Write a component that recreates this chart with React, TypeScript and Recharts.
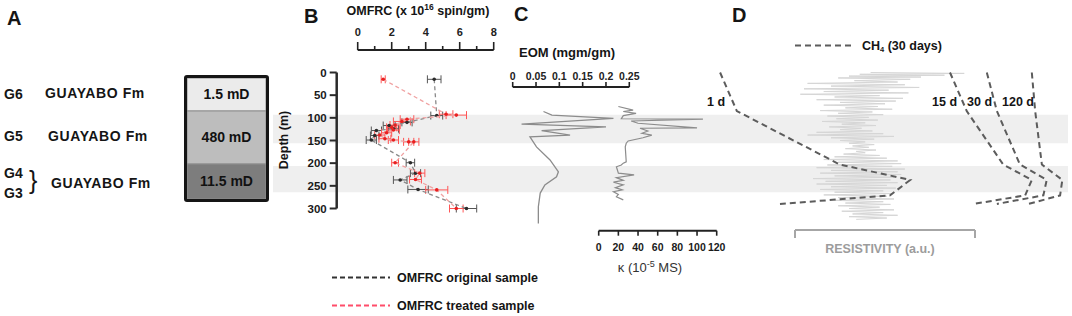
import React from "react";
import {
    ComposedChart,
    BarChart,
    Bar,
    LabelList,
    Scatter,
    XAxis,
    YAxis,
    ErrorBar,
    ReferenceArea,
} from "recharts";

const W = 1072;
const H = 316;
const FONT = '"Liberation Sans", Arial, Helvetica, sans-serif';

// depth scale shared by panels B-D: 0 m at y=72.5, 300 m at y=208.5
const DEPTH_TOP = 72.5;
const PX_PER_M = 136 / 300;
const depthAt = (y: number) => (y - DEPTH_TOP) / PX_PER_M;

/* ---------------- data ---------------- */

const DEPTH_TICKS = [0, 50, 100, 150, 200, 250, 300];
const SHADED_FROM = [93, 206];
const SHADED_TO = [156, 264];

// panel A: schematic core column
const LAYER_THICKNESS = [33, 53, 35];
const LAYER_PERMEABILITY = ["1.5 mD", "480 mD", "11.5 mD"];

// panel B: OMFRC (x 10^16 spin/gm)
const OMFRC_TICKS = [0, 1, 2, 3, 4, 5, 6, 7, 8];
const ORIG_DEPTH = [15, 95, 110, 117, 124, 128, 139, 149, 199, 222, 237, 258, 300];
const ORIG_VALUE = [4.5, 4.65, 2.9, 1.85, 2.1, 1.1, 1.0, 0.8, 3.1, 3.4, 2.5, 3.55, 6.4];
const ORIG_ERR = [0.4, 0.35, 0.3, 0.35, 0.3, 0.3, 0.25, 0.3, 0.25, 0.3, 0.4, 0.6, 0.6];
const TREAT_DEPTH = [15, 92, 94, 103, 108, 116, 121, 127, 133, 138, 146, 149, 153, 153, 199, 222, 236, 259, 300];
const TREAT_VALUE = [1.5, 5.2, 5.8, 2.9, 2.6, 2.2, 2.0, 2.1, 1.7, 1.3, 1.6, 2.1, 3.0, 3.3, 2.2, 3.65, 3.4, 4.65, 5.8];
const TREAT_ERR = [0.12, 0.4, 0.6, 0.4, 0.5, 0.3, 0.3, 0.35, 0.3, 0.3, 0.35, 0.3, 0.3, 0.3, 0.2, 0.3, 0.35, 0.65, 0.4];

// panel C: EOM (mgm/gm) and magnetic susceptibility
const EOM_TICKS = [0, 0.05, 0.1, 0.15, 0.2, 0.25];
const EOM_DEPTH = [86, 94, 101, 114, 120, 128, 138, 142, 164, 193, 219, 230, 248, 266, 296, 333];
const EOM_VALUE = [0.066, 0.084, 0.216, 0.019, 0.2, 0.062, 0.123, 0.037, 0.051, 0.08, 0.098, 0.094, 0.069, 0.059, 0.055, 0.055];
const KAPPA_TICKS = [0, 20, 40, 60, 80, 100, 120];
const KAPPA_DEPTH = [75, 83, 86, 90, 95, 102, 103, 107, 112, 122, 123, 129, 134, 138, 144, 151, 156, 164, 197, 200, 204, 208, 222, 226, 232, 238, 242, 248, 254, 259, 263, 269, 274, 281];
const KAPPA_VALUE = [20, 35, 25, 38, 25, 23, 106, 33, 40, 100, 42, 50, 44, 54, 45, 30, 28, 27, 28, 25, 23, 18, 20, 36, 18, 25, 15, 25, 17, 24, 15, 20, 18, 25];

// panel D: CH4 profiles (a.u.) and resistivity log (a.u.)
const CH4_DEPTH = [0, 85, 203, 237, 271, 290];
const CH4_1D = [5.4, 9.9, 37.6, 56.5, 51.1, 21.5];
const CH4_15D = [67.2, 71.7, 81.5, 89.2, 87.4, 73.5];
const CH4_30D = [77.1, 79.8, 86, 93.2, 92.3, 79.8];
const CH4_120D = [89.2, 90.1, 91.9, 97.4, 96.8, 88.3];
const RES_DEPTH = [
    0, 2, 4, 6, 8, 10, 12, 15, 18, 21, 24, 27, 30, 33, 36, 39, 42, 45, 48, 51, 54, 57, 60, 63, 66, 69,
    72, 75, 78, 81, 84, 87, 90, 93, 96, 99, 102, 105, 108, 111, 114, 117, 120, 123, 126, 129, 132, 135,
    138, 141, 144, 147, 150, 153, 156, 159, 162, 165, 168, 171, 174, 177, 180, 183, 186, 189, 192, 195,
    198, 201, 204, 207, 210, 213, 216, 219, 222, 225, 228, 231, 234, 237, 240, 243, 246, 249, 252, 255,
    258, 261, 264, 267, 270, 273, 276, 279, 282, 285, 288, 291, 294, 297, 300, 303, 306, 309, 312, 315,
    318, 321, 324,
];
const RES_VALUE = [
    0.42, 0.94, 0.36, 0.83, 0.3, 0.7, 0.24, 0.64, 0.33, 0.57, 0.07, 0.61, 0.2, 0.69, 0.05, 0.52, 0.16, 0.63,
    0.03, 0.47, 0.22, 0.6, 0.12, 0.56, 0.25, 0.5, 0.16, 0.46, 0.28, 0.54, 0.14, 0.43, 0.24, 0.49, 0.18, 0.41,
    0.23, 0.46, 0.15, 0.39, 0.26, 0.45, 0.19, 0.37, 0.25, 0.43, 0.12, 0.49, 0.07, 0.55, 0.2, 0.44, 0.25, 0.39,
    0.3, 0.44, 0.32, 0.41, 0.28, 0.45, 0.34, 0.39, 0.27, 0.47, 0.22, 0.51, 0.16, 0.57, 0.24, 0.59, 0.18, 0.54,
    0.12, 0.61, 0.2, 0.57, 0.14, 0.59, 0.22, 0.55, 0.1, 0.53, 0.17, 0.57, 0.12, 0.51, 0.2, 0.56, 0.14, 0.49,
    0.22, 0.54, 0.16, 0.51, 0.24, 0.55, 0.22, 0.49, 0.28, 0.53, 0.24, 0.47, 0.3, 0.55, 0.26, 0.49, 0.32, 0.57,
    0.3, 0.51, 0.34,
];

/* ---------------- helpers ---------------- */

const toRows = (depth: number[], value: number[], err?: number[]) =>
    depth.map((d, i) => ({ depth: d, value: value[i], err: err ? err[i] : 0 }));

const noShape = () => <g />;

const layer: React.CSSProperties = { position: "absolute", left: 0, top: 0 };

function OmfrcTick({ x, payload }: any) {
    const major = payload.value % 2 === 0;
    return (
        <g>
            <line x1={x} x2={x} y1={50} y2={major ? 42 : 46} stroke="#222" strokeWidth={1.6} />
            {major && (
                <text x={x} y={35.5} textAnchor="middle" fontSize={11} fontWeight={700} fill="#222" fontFamily={FONT}>
                    {payload.value}
                </text>
            )}
        </g>
    );
}

function EomTick({ x, payload }: any) {
    return (
        <g>
            <line x1={x} x2={x} y1={87} y2={82} stroke="#222" strokeWidth={1.6} />
            <text x={x} y={79.5} textAnchor="middle" fontSize={10.5} fontWeight={700} fill="#222" fontFamily={FONT}>
                {payload.value}
            </text>
        </g>
    );
}

function Txt({ x, y, size = 12.5, weight = 700, fill = "#151515", anchor = "start", spacing = 0, children }: any) {
    return (
        <text
            x={x}
            y={y}
            fontSize={size}
            fontWeight={weight}
            fill={fill}
            textAnchor={anchor}
            letterSpacing={spacing}
            fontFamily={FONT}
        >
            {children}
        </text>
    );
}

/* ---------------- app ---------------- */

export default function App() {
    const fullDepth: [number, number] = [depthAt(0), depthAt(H)];
    const layerRow: Record<string, any> = { name: "core" };
    LAYER_THICKNESS.forEach((t, i) => {
        layerRow[`t${i}`] = t;
        layerRow[`p${i}`] = LAYER_PERMEABILITY[i];
    });
    const layerTotal = LAYER_THICKNESS.reduce((a, b) => a + b, 0);
    const layerFills = ["#ebebeb", "#bdbdbd", "#7d7d7d"];

    const bAxisX = 336.7;
    const bZeroX = 357.7;
    const bPx = 17;
    const bRight = 500;

    const ch4Series = [CH4_1D, CH4_15D, CH4_30D, CH4_120D];
    const bandRows = SHADED_FROM.map((d, i) => ({ value: 0.5, depth: (d + SHADED_TO[i]) / 2 }));
    const omfrcTickRows = OMFRC_TICKS.map((t) => ({ value: t, depth: 0.5 }));
    const eomTickRows = EOM_TICKS.map((t) => ({ value: t, depth: 0.5 }));

    return (
        <div style={{ position: "absolute", left: 0, top: 0, width: W, height: H, background: "#fff", overflow: "hidden" }}>
            {/* shaded intervals */}
            <div style={layer}>
                <ComposedChart width={W} height={H} margin={{ top: 0, bottom: 0, left: 273, right: W - 1068 }}>
                    <XAxis type="number" dataKey="value" hide domain={[0, 1]} />
                    <YAxis type="number" dataKey="depth" hide domain={fullDepth} reversed />
                    {SHADED_FROM.map((d, i) => (
                        <ReferenceArea key={i} y1={d} y2={SHADED_TO[i]} fill="#efefef" fillOpacity={1} stroke="none" />
                    ))}
                    <Scatter data={bandRows} shape={noShape} isAnimationActive={false} />
                </ComposedChart>
            </div>

            {/* panel A core column */}
            <div
                style={{
                    position: "absolute",
                    left: 184,
                    top: 75,
                    width: 85,
                    height: 127,
                    boxSizing: "border-box",
                    border: "3px solid #151515",
                    borderRadius: 3,
                    overflow: "hidden",
                }}
            >
                <BarChart width={79} height={121} data={[layerRow]} margin={{ top: 0, right: 0, bottom: 0, left: 0 }} barCategoryGap={0}>
                    <XAxis dataKey="name" hide />
                    <YAxis type="number" hide domain={[0, layerTotal]} reversed allowDataOverflow />
                    {LAYER_THICKNESS.map((_, i) => (
                        <Bar key={i} dataKey={`t${i}`} stackId="core" fill={layerFills[i]} stroke="#8f8f8f" strokeWidth={1} isAnimationActive={false}>
                            <LabelList dataKey={`p${i}`} position="center" fill="#111" fontSize={14} fontWeight={700} fontFamily={FONT} />
                        </Bar>
                    ))}
                </BarChart>
            </div>

            {/* panel B top axis */}
            <div style={layer}>
                <ComposedChart width={W} height={H} margin={{ top: 20, bottom: H - 60, left: bZeroX, right: W - (bZeroX + 8 * bPx) }}>
                    <XAxis
                        type="number"
                        dataKey="value"
                        orientation="top"
                        domain={[0, 8]}
                        ticks={OMFRC_TICKS}
                        interval={0}
                        height={30}
                        axisLine={{ stroke: "#222", strokeWidth: 2 }}
                        tickLine={false}
                        tick={(p: any) => <OmfrcTick {...p} />}
                    />
                    <YAxis type="number" dataKey="depth" hide domain={[0, 1]} />
                    <Scatter data={omfrcTickRows} shape={noShape} isAnimationActive={false} />
                </ComposedChart>
            </div>

            {/* panel B profiles */}
            <div style={layer}>
                <ComposedChart
                    width={W}
                    height={H}
                    margin={{ top: DEPTH_TOP, bottom: H - (DEPTH_TOP + 300 * PX_PER_M), left: bAxisX - 45, right: W - bRight }}
                >
                    <XAxis type="number" dataKey="value" hide domain={[(bAxisX - bZeroX) / bPx, (bRight - bZeroX) / bPx]} />
                    <YAxis
                        type="number"
                        dataKey="depth"
                        domain={[0, 300]}
                        reversed
                        width={45}
                        ticks={DEPTH_TICKS}
                        interval={0}
                        tickSize={7}
                        tickMargin={3}
                        axisLine={{ stroke: "#2a2a2a", strokeWidth: 2.5 }}
                        tickLine={{ stroke: "#2a2a2a", strokeWidth: 2 }}
                        tick={{ fontSize: 11.5, fontWeight: 700, fill: "#1a1a1a", fontFamily: FONT }}
                    />
                    <Scatter
                        data={toRows(ORIG_DEPTH, ORIG_VALUE, ORIG_ERR)}
                        line={{ stroke: "#8a8a8a", strokeWidth: 1.3, strokeDasharray: "4 3" }}
                        shape={(p: any) => <circle cx={p.cx} cy={p.cy} r={1.8} fill="#2b2b2b" />}
                        isAnimationActive={false}
                    >
                        <ErrorBar dataKey="err" direction="x" width={4} stroke="#555" strokeWidth={1} />
                    </Scatter>
                    <Scatter
                        data={toRows(TREAT_DEPTH, TREAT_VALUE, TREAT_ERR)}
                        line={{ stroke: "#f0a2a2", strokeWidth: 1.3, strokeDasharray: "4 3" }}
                        shape={(p: any) => <circle cx={p.cx} cy={p.cy} r={1.8} fill="#e82020" />}
                        isAnimationActive={false}
                    >
                        <ErrorBar dataKey="err" direction="x" width={4} stroke="#ff5656" strokeWidth={1} />
                    </Scatter>
                </ComposedChart>
            </div>

            {/* panel C EOM axis */}
            <div style={layer}>
                <ComposedChart width={W} height={H} margin={{ top: 57, bottom: H - 93, left: 512.7, right: W - 629.3 }}>
                    <XAxis
                        type="number"
                        dataKey="value"
                        orientation="top"
                        domain={[0, 0.25]}
                        ticks={EOM_TICKS}
                        interval={0}
                        height={30}
                        axisLine={{ stroke: "#222", strokeWidth: 2 }}
                        tickLine={false}
                        tick={(p: any) => <EomTick {...p} />}
                    />
                    <YAxis type="number" dataKey="depth" hide domain={[0, 1]} />
                    <Scatter data={eomTickRows} shape={noShape} isAnimationActive={false} />
                </ComposedChart>
            </div>

            {/* panel C EOM curve */}
            <div style={layer}>
                <ComposedChart width={W} height={H} margin={{ top: 0, bottom: 0, left: 512.7, right: W - 629.3 }}>
                    <XAxis type="number" dataKey="value" hide domain={[0, 0.25]} />
                    <YAxis type="number" dataKey="depth" hide domain={fullDepth} reversed />
                    <Scatter
                        data={toRows(EOM_DEPTH, EOM_VALUE)}
                        line={{ stroke: "#8c8c8c", strokeWidth: 1.3 }}
                        shape={noShape}
                        isAnimationActive={false}
                    />
                </ComposedChart>
            </div>

            {/* panel C susceptibility curve + bottom axis */}
            <div style={layer}>
                <ComposedChart width={W} height={H} margin={{ top: 0, bottom: H - 230.7 - 30, left: 598.7, right: W - 716.7 }}>
                    <XAxis
                        type="number"
                        dataKey="value"
                        domain={[0, 120]}
                        ticks={KAPPA_TICKS}
                        interval={0}
                        height={30}
                        tickSize={5}
                        tickMargin={8}
                        axisLine={{ stroke: "#222", strokeWidth: 2 }}
                        tickLine={{ stroke: "#222", strokeWidth: 1.6 }}
                        tick={{ fontSize: 10.5, fontWeight: 700, fill: "#1a1a1a", fontFamily: FONT }}
                    />
                    <YAxis type="number" dataKey="depth" hide domain={[depthAt(0), depthAt(230.7)]} reversed />
                    <Scatter
                        data={toRows(KAPPA_DEPTH, KAPPA_VALUE)}
                        line={{ stroke: "#8c8c8c", strokeWidth: 1.2 }}
                        shape={noShape}
                        isAnimationActive={false}
                    />
                </ComposedChart>
            </div>

            {/* panel D resistivity log + bracket */}
            <div style={layer}>
                <ComposedChart width={W} height={H} margin={{ top: 0, bottom: H - 230 - 30, left: 795, right: W - 975 }}>
                    <XAxis
                        type="number"
                        dataKey="value"
                        domain={[0, 1]}
                        ticks={[0, 1]}
                        interval={0}
                        height={30}
                        tickSize={8}
                        tick={noShape}
                        axisLine={{ stroke: "#a6a6a6", strokeWidth: 2 }}
                        tickLine={{ stroke: "#a6a6a6", strokeWidth: 2 }}
                    />
                    <YAxis type="number" dataKey="depth" hide domain={[depthAt(0), depthAt(230)]} reversed />
                    <Scatter
                        data={toRows(RES_DEPTH, RES_VALUE)}
                        line={{ stroke: "#d6d6d6", strokeWidth: 1 }}
                        shape={noShape}
                        isAnimationActive={false}
                    />
                </ComposedChart>
            </div>

            {/* panel D CH4 profiles */}
            <div style={layer}>
                <ComposedChart width={W} height={H} margin={{ top: 0, bottom: 0, left: 700, right: 0 }}>
                    <XAxis type="number" dataKey="value" hide domain={[0, 100]} />
                    <YAxis type="number" dataKey="depth" hide domain={fullDepth} reversed />
                    {ch4Series.map((s, i) => (
                        <Scatter
                            key={i}
                            data={toRows(CH4_DEPTH, s)}
                            line={{ stroke: "#5c5c5c", strokeWidth: 2, strokeDasharray: "6 4" }}
                            shape={noShape}
                            isAnimationActive={false}
                        />
                    ))}
                </ComposedChart>
            </div>

            {/* text + legends */}
            <svg width={W} height={H} style={{ ...layer, pointerEvents: "none" }}>
                <Txt x={7} y={25} size={20}>A</Txt>
                <Txt x={304} y={23} size={20}>B</Txt>
                <Txt x={514} y={21} size={20}>C</Txt>
                <Txt x={732} y={22} size={20}>D</Txt>

                <Txt x={4} y={99} size={14}>G6</Txt>
                <Txt x={45} y={98} size={14} spacing={0.6}>GUAYABO Fm</Txt>
                <Txt x={4} y={141} size={14}>G5</Txt>
                <Txt x={48} y={141} size={14} spacing={0.6}>GUAYABO Fm</Txt>
                <Txt x={4} y={178} size={14}>G4</Txt>
                <Txt x={4} y={198} size={14}>G3</Txt>
                <Txt x={29} y={189} size={25} weight={400}>{"}"}</Txt>
                <Txt x={51} y={188} size={14} spacing={0.6}>GUAYABO Fm</Txt>

                <text x={346.5} y={15} fontSize={12.5} fontWeight={700} fill="#151515" fontFamily={FONT}>
                    OMFRC (x 10<tspan fontSize={8.5} dy={-5}>16</tspan>
                    <tspan dy={5}> spin/gm)</tspan>
                </text>
                <text
                    x={287.5}
                    y={140}
                    transform="rotate(-90 287.5 140)"
                    fontSize={12.5}
                    fontWeight={700}
                    fill="#151515"
                    textAnchor="middle"
                    fontFamily={FONT}
                >
                    Depth (m)
                </text>

                <Txt x={519} y={57} size={13}>EOM (mgm/gm)</Txt>
                <text x={650} y={271.5} fontSize={13} fill="#333" textAnchor="middle" fontFamily={FONT}>
                    κ (10<tspan fontSize={9} dy={-5}>-5</tspan>
                    <tspan dy={5}> MS)</tspan>
                </text>

                <line x1={795} x2={853} y1={45.5} y2={45.5} stroke="#5c5c5c" strokeWidth={2} strokeDasharray="6 4" />
                <text x={862} y={49.5} fontSize={12.5} fontWeight={700} fill="#151515" fontFamily={FONT}>
                    CH<tspan fontSize={7.5} dy={2}>4</tspan>
                    <tspan dy={-2}> (30 days)</tspan>
                </text>
                <Txt x={707} y={105.5}>1 d</Txt>
                <Txt x={932} y={105.5}>15 d</Txt>
                <Txt x={967} y={105.5}>30 d</Txt>
                <Txt x={1002} y={105.5}>120 d</Txt>
                <Txt x={880} y={252.5} fill="#9c9c9c" anchor="middle">RESISTIVITY (a.u.)</Txt>

                <line x1={332} x2={390} y1={277.5} y2={277.5} stroke="#333" strokeWidth={2} strokeDasharray="5 3" />
                <Txt x={397} y={282}>OMFRC original sample</Txt>
                <line x1={332} x2={390} y1={305.5} y2={305.5} stroke="#ff4d6a" strokeWidth={2} strokeDasharray="5 3" />
                <Txt x={397} y={310}>OMFRC treated sample</Txt>
            </svg>
        </div>
    );
}
